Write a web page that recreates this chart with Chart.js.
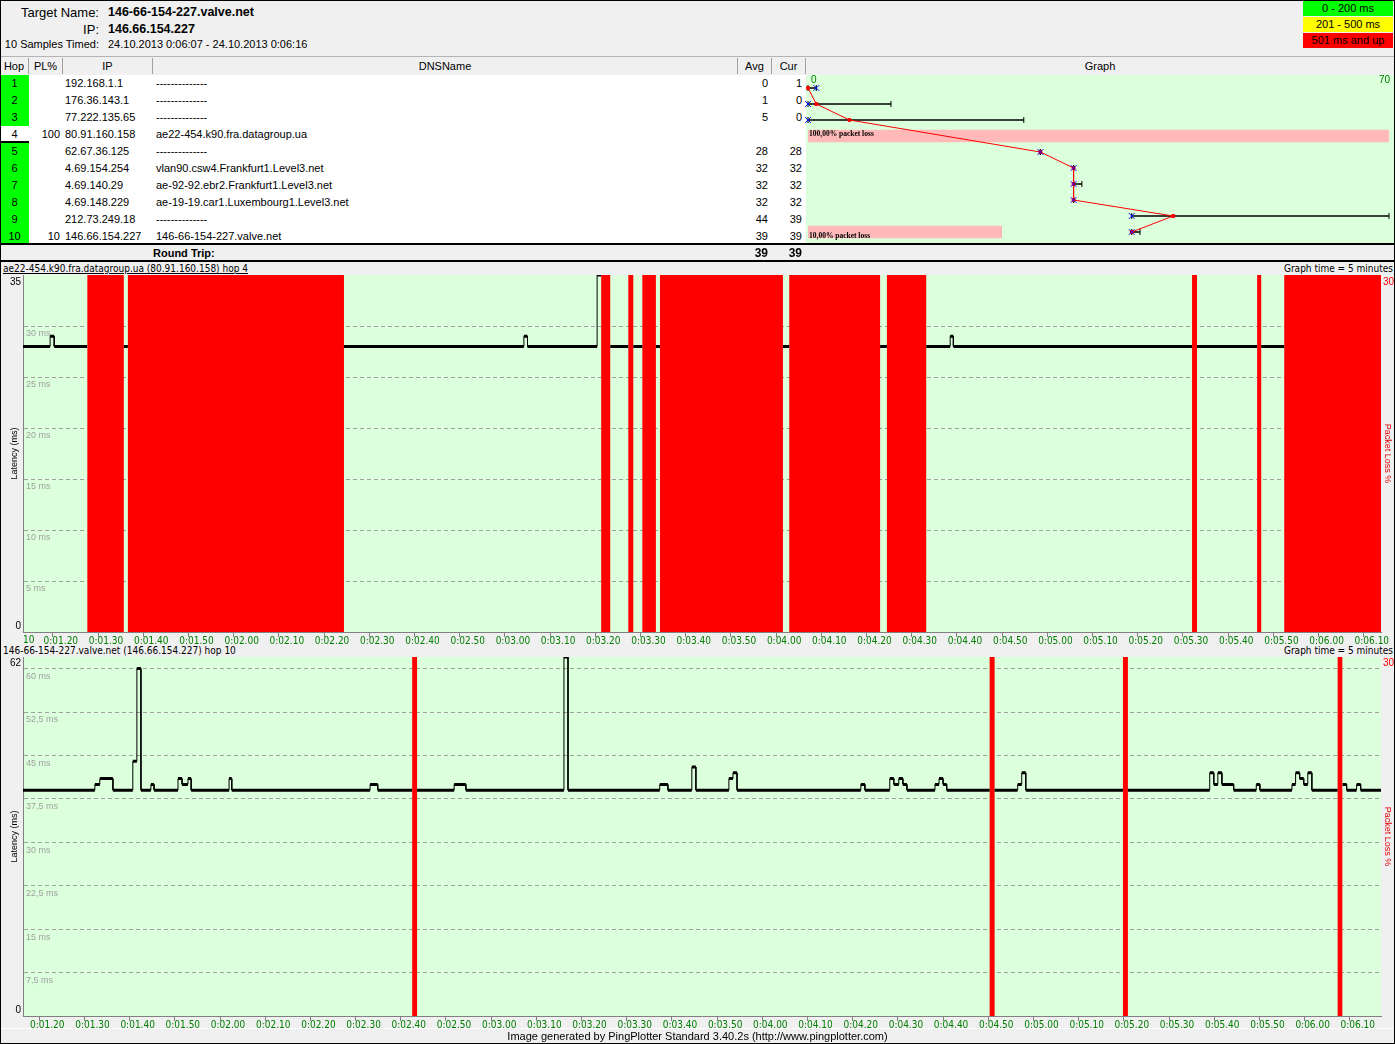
<!DOCTYPE html>
<html>
<head>
<meta charset="utf-8">
<title>PingPlotter - 146-66-154-227.valve.net</title>
<script src="https://cdn.jsdelivr.net/npm/chart.js@4.4.0/dist/chart.umd.min.js"></script>
<style>
  body { margin: 0; background: #f0f0f0; }
  #page { position: relative; width: 1395px; height: 1044px; background: #f0f0f0; overflow: hidden;
          font-family: "Liberation Sans", Arial, sans-serif; font-size: 11px; color: #000; }
  #frame { position: absolute; left: 0; top: 0; width: 1395px; height: 1044px; box-sizing: border-box;
           border: 1px solid #000; pointer-events: none; z-index: 20; }
  .t { position: absolute; white-space: nowrap; }
  .narrow { font-family: "Liberation Sans Narrow", "Arial Narrow", "DejaVu Sans Condensed", "Liberation Sans", sans-serif; }
  canvas { position: absolute; }
  .cell { position: absolute; height: 17px; line-height: 17px; white-space: nowrap; }
  .hdr { position: absolute; top: 58px; height: 16px; line-height: 16px; text-align: center;
         border-right: 1px solid #a0a0a0; box-sizing: border-box; }
  .legend { position: absolute; left: 1303px; width: 90px; height: 15px; line-height: 15px; text-align: center; font-size: 11px; }
  .plbl { position: absolute; font-family: "Liberation Serif", "DejaVu Serif", serif; font-weight: bold; font-size: 7.5px; white-space: nowrap; }
</style>
</head>
<body>
<div id="page">
  <!-- header -->
  <div class="t" style="left:0;width:99px;text-align:right;top:5px;font-size:13px;">Target Name:</div>
  <div class="t" style="left:108px;top:5px;font-size:12.5px;font-weight:bold;">146-66-154-227.valve.net</div>
  <div class="t" style="left:0;width:99px;text-align:right;top:22px;font-size:13px;">IP:</div>
  <div class="t" style="left:108px;top:22px;font-size:12.5px;font-weight:bold;">146.66.154.227</div>
  <div class="t" style="left:0;width:99px;text-align:right;top:38px;">10 Samples Timed:</div>
  <div class="t" style="left:108px;top:38px;">24.10.2013 0:06:07 - 24.10.2013 0:06:16</div>

  <div class="legend" style="top:1px;background:#00ff00;">0 - 200 ms</div>
  <div class="legend" style="top:17px;background:#ffff00;">201 - 500 ms</div>
  <div class="legend" style="top:33px;background:#ff0000;">501 ms and up</div>

  <div style="position:absolute;left:0;top:56px;width:1395px;height:1px;background:#b4b4b4;"></div>

  <!-- table header -->
  <div class="hdr" style="left:0;width:29px;">Hop</div>
  <div class="hdr" style="left:29px;width:34px;">PL%</div>
  <div class="hdr" style="left:63px;width:90px;">IP</div>
  <div class="hdr" style="left:153px;width:585px;">DNSName</div>
  <div class="hdr" style="left:738px;width:34px;">Avg</div>
  <div class="hdr" style="left:772px;width:34px;">Cur</div>
  <div class="hdr" style="left:806px;width:588px;border-right:none;">Graph</div>

  <div id="rows"></div>
  <div id="graphBg" style="position:absolute;left:806px;top:75px;width:588px;height:169px;background:#dcffdc;"></div>
  <canvas id="hopGraph" width="594" height="170" style="left:800px;top:75px;"></canvas>
  <div class="t" style="left:811px;top:74px;font-size:10px;color:#008000;">0</div>
  <div class="t" style="left:1379px;top:74px;font-size:10px;color:#008000;">70</div>
  <div class="plbl" style="left:809px;top:129px;">100,00% packet loss</div>
  <div class="plbl" style="left:809px;top:231px;">10,00% packet loss</div>

  <div style="position:absolute;left:0;top:243px;width:1395px;height:2px;background:#000;"></div>
  <div class="t" style="left:153px;top:247px;font-weight:bold;">Round Trip:</div>
  <div class="t" style="left:738px;width:30px;text-align:right;top:246px;font-weight:bold;font-size:12px;">39</div>
  <div class="t" style="left:772px;width:30px;text-align:right;top:246px;font-weight:bold;font-size:12px;">39</div>
  <div style="position:absolute;left:0;top:260px;width:1395px;height:2px;background:#000;"></div>

  <!-- panel 1 -->
  <div class="t narrow" style="left:3px;top:263px;font-size:10px;text-decoration:underline;">ae22-454.k90.fra.datagroup.ua (80.91.160.158) hop 4</div>
  <div class="t narrow" style="right:2px;top:263px;font-size:10px;">Graph time = 5 minutes</div>
  <canvas id="panel1" width="1395" height="382" style="left:0;top:263px;"></canvas>
  <div class="t" style="left:8px;width:13px;text-align:right;top:276px;font-size:10px;">35</div>
  <div class="t" style="left:8px;width:13px;text-align:right;top:620px;font-size:10px;">0</div>
  <div class="t" style="left:1383px;top:276px;font-size:10px;color:#ff0000;">30</div>
  <div class="t narrow" style="left:23px;top:634px;font-size:10px;color:#008000;">10</div>

  <!-- panel 2 -->
  <div class="t narrow" style="left:3px;top:645px;font-size:10px;">146-66-154-227.valve.net (146.66.154.227) hop 10</div>
  <div class="t narrow" style="right:2px;top:645px;font-size:10px;">Graph time = 5 minutes</div>
  <canvas id="panel2" width="1395" height="385" style="left:0;top:645px;"></canvas>
  <div class="t" style="left:8px;width:13px;text-align:right;top:657px;font-size:10px;">62</div>
  <div class="t" style="left:8px;width:13px;text-align:right;top:1004px;font-size:10px;">0</div>
  <div class="t" style="left:1383px;top:657px;font-size:10px;color:#ff0000;">30</div>

  <div style="position:absolute;left:0;top:1028px;width:1395px;height:1px;background:#ffffff;"></div>
  <div class="t" style="left:0;width:1395px;text-align:center;top:1030px;">Image generated by PingPlotter Standard 3.40.2s (http://www.pingplotter.com)</div>
  <div id="frame"></div>
</div>

<script>
// Hop table
const hopNums = [1, 2, 3, 4, 5, 6, 7, 8, 9, 10];
const hopPL = ['', '', '', '100', '', '', '', '', '', '10'];
const hopIP = ['192.168.1.1', '176.36.143.1', '77.222.135.65', '80.91.160.158', '62.67.36.125',
               '4.69.154.254', '4.69.140.29', '4.69.148.229', '212.73.249.18', '146.66.154.227'];
const hopDNS = ['--------------', '--------------', '--------------', 'ae22-454.k90.fra.datagroup.ua',
                '--------------', 'vlan90.csw4.Frankfurt1.Level3.net', 'ae-92-92.ebr2.Frankfurt1.Level3.net',
                'ae-19-19.car1.Luxembourg1.Level3.net', '--------------', '146-66-154-227.valve.net'];
const hopAvg = [0, 1, 5, null, 28, 32, 32, 32, 44, 39];
const hopCur = [1, 0, 0, null, 28, 32, 32, 32, 39, 39];
const hopMin = [0, 0, 0, null, 28, 32, 32, 32, 39, 39];
const hopMax = [1, 10, 26, null, 28, 32, 33, 32, 70, 40];
const hopLossPct = [0, 0, 0, 100, 0, 0, 0, 0, 0, 10];
const graphMaxMs = 70;
const lossScaleMax = 30;

// Hop 4 timeline (seconds, ms; null = lost)
const hop4Time = [73.4, 79.4, 80.3, 87.6, 95.7, 96.6, 144.4, 184.2, 185.0, 200.4, 201.3, 203.3, 207.3, 208.4,
                  210.4, 213.4, 214.3, 241.5, 242.9, 263.0, 264.5, 273.2, 278.5, 279.2, 332.0, 333.1, 346.4,
                  347.3, 352.4];
const hop4Ms = [28, 29, 28, null, 28, null, 28, 29, 28, 35, null, 28, null, 28,
                null, 28, null, 28, null, 28, null, 28, 29, 28, null, 28, null,
                28, null];
const hop4End = 373.8;

// Hop 10 timeline
const hop10Time = [76.4, 92.3, 93.4, 96.3, 100.7, 101.6, 102.5, 104.7, 105.4, 110.7, 111.6, 112.9, 113.6,
                   122.0, 122.6, 153.2, 154.9, 162.5, 163.6, 171.8, 174.4, 196.1, 197.0, 217.3, 219.1,
                   224.4, 225.3, 232.6, 233.5, 234.4, 261.8, 262.7, 268.2, 269.1, 270.2, 271.1, 272.0,
                   278.2, 279.1, 280.0, 280.8, 290.3, 291.4, 296.5, 297.4, 298.3, 319.8, 320.9, 339.0,
                   339.9, 340.8, 341.7, 344.3, 349.3, 350.1, 357.2, 358.0, 358.9, 359.8, 360.7, 361.6,
                   367.3, 368.4, 369.3, 371.5, 372.4];
const hop10Ms = [39, 40, 41, 39, 44, 60, 39, 40, 39, 41, 40, 41, 39,
                 41, 39, 40, 39, null, 39, 40, 39, 62, 39, 40, 39,
                 43, 39, 41, 42, 39, 40, 39, 41, 40, 41, 40, 39,
                 40, 41, 40, 39, null, 39, 40, 42, 39, null, 39, 42,
                 40, 42, 40, 39, 40, 39, 40, 42, 41, 40, 42, 39,
                 null, 40, 39, 40, 39];
const hop10End = 376.9;

const NARROW = '"Liberation Sans Narrow", "Arial Narrow", "DejaVu Sans Condensed", "Liberation Sans", sans-serif';

// table rows
const rows = document.getElementById('rows');
hopNums.forEach((h, i) => {
  const top = 75 + i * 17;
  const add = (left, width, text, style) => {
    const d = document.createElement('div');
    d.className = 'cell';
    d.style.cssText = `left:${left}px;top:${top}px;width:${width}px;` + (style || '');
    d.textContent = text;
    rows.appendChild(d);
  };
  add(29, 777, '', 'background:#fff;');
  add(0, 29, String(h), 'text-align:center;background:' + (hopPL[i] === '100' ? '#fff' : '#00ff00') + ';');
  add(29, 31, hopPL[i], 'text-align:right;');
  add(65, 88, hopIP[i]);
  add(156, 580, hopDNS[i]);
  add(738, 30, hopAvg[i] === null ? '' : String(hopAvg[i]), 'text-align:right;');
  add(772, 30, hopCur[i] === null ? '' : String(hopCur[i]), 'text-align:right;');
  if (hopPL[i] === '100') add(0, 29, '', 'height:2px;top:' + (top + 15) + 'px;background:#000;');
});

// plot area background
const plotBg = {
  id: 'plotBg',
  beforeDraw(chart, args, opts) {
    if (!opts.color) return;
    const { ctx, chartArea: a } = chart;
    ctx.save();
    ctx.fillStyle = opts.color;
    ctx.fillRect(a.left, a.top, a.right - a.left, a.bottom - a.top);
    ctx.restore();
  }
};

// ---- hop graph column ----
const avgPts = hopNums.map((h, i) => ({ x: hopAvg[i], y: hopAvg[i] === null ? null : h }));
const curPts = hopNums.map((h, i) => ({ x: hopCur[i], y: hopCur[i] === null ? null : h }));
const rangePts = [];
hopNums.forEach((h, i) => {
  if (hopMin[i] === null) return;
  rangePts.push({ x: hopMin[i], y: h }, { x: hopMax[i], y: h }, { x: hopMax[i], y: null });
});
const lossBars = hopNums.map((h, i) => ({ x: Math.min(hopLossPct[i], lossScaleMax) / lossScaleMax * graphMaxMs, y: h }))
  .filter(p => p.x > 0);

new Chart(document.getElementById('hopGraph'), {
  type: 'line',
  data: {
    datasets: [
      { type: 'line', data: curPts, showLine: false, pointStyle: 'crossRot', pointRadius: 4,
        pointBorderColor: '#0000ff', pointBorderWidth: 1, clip: false, order: 1 },
      { type: 'line', data: avgPts, borderColor: '#ff0000', borderWidth: 1, spanGaps: true,
        pointStyle: 'rect', pointRadius: 2, pointBackgroundColor: '#ff0000', pointBorderColor: '#ff0000',
        clip: false, order: 2 },
      { type: 'line', data: rangePts, borderColor: '#000', borderWidth: 1.5, pointStyle: 'line',
        pointRotation: 90, pointRadius: 3, pointBorderColor: '#000', pointBorderWidth: 1, clip: false, order: 3 },
      { type: 'bar', indexAxis: 'y', data: lossBars, backgroundColor: '#ffb9b9', barThickness: 12,
        borderWidth: 0, order: 10 }
    ]
  },
  options: {
    responsive: false, animation: false, devicePixelRatio: 1,
    layout: { padding: { left: 8, right: 1, top: 0, bottom: 0 } },
    plugins: { legend: { display: false }, tooltip: { enabled: false } },
    scales: {
      x: { type: 'linear', min: 0, max: graphMaxMs, display: false, offset: false },
      y: { type: 'linear', min: 0.5, max: 10.5, reverse: true, display: false, offset: false }
    }
  }
});

// ---- timeline panels ----
function fmtTime(v) {
  const m = Math.floor(v / 60);
  const s = Math.round(v - m * 60);
  return '0:0' + m + '.' + String(s).padStart(2, '0');
}

function buildTimeline(times, ms, end) {
  const flat = [], steps = [], lost = [];
  for (let i = 0; i < times.length; i++) {
    const s = times[i];
    const e = i + 1 < times.length ? times[i + 1] : end;
    const v = ms[i];
    if (v === null) {
      lost.push({ x: s, y: 0 }, { x: s, y: 100 }, { x: e, y: 100 }, { x: e, y: 0 });
    } else {
      flat.push({ x: s, y: v }, { x: e, y: v }, { x: e, y: null });
      const next = ms[i + 1];
      if (next !== null && next !== undefined) steps.push({ x: e, y: v }, { x: e, y: next }, { x: e, y: null });
    }
  }
  return { flat, steps, lost };
}

function makePanel(id, times, ms, end, xMin, xMax, yMax, yStep, xAxisH) {
  const tl = buildTimeline(times, ms, end);
  return new Chart(document.getElementById(id), {
    type: 'line',
    data: {
      datasets: [
        { data: tl.flat, borderColor: '#000', borderWidth: 3, borderCapStyle: 'butt', pointRadius: 0, order: 1 },
        { data: tl.steps, borderColor: '#000', borderWidth: 1, pointRadius: 0, order: 2 },
        { data: tl.lost, yAxisID: 'y2', borderWidth: 0, borderColor: 'rgba(0,0,0,0)', backgroundColor: '#ff0000',
          fill: 'origin', pointRadius: 0, order: 3 }
      ]
    },
    options: {
      responsive: false, animation: false, devicePixelRatio: 1,
      layout: { padding: { top: 12, left: 0, right: 0, bottom: 0 } },
      plugins: { legend: { display: false }, tooltip: { enabled: false }, plotBg: { color: '#dcffdc' } },
      scales: {
        x: {
          type: 'linear', min: xMin, max: xMax,
          afterFit: s => { s.height = xAxisH; },
          ticks: { stepSize: 10, includeBounds: false, autoSkip: false, maxRotation: 0, color: '#008000',
                   font: { family: NARROW, size: 10 }, padding: -2, labelOffset: 8, callback: fmtTime },
          grid: { drawOnChartArea: false, color: '#808080', tickLength: 5 },
          border: { color: '#808080' }
        },
        y: {
          type: 'linear', position: 'left', min: 0, max: yMax,
          afterFit: s => { s.width = 23; },
          ticks: { stepSize: yStep, includeBounds: false, mirror: true, padding: 3, labelOffset: 8,
                   color: '#a0a0a0', font: { size: 9 },
                   callback: v => (v === 0 || v >= yMax) ? '' : String(v).replace('.', ',') + ' ms' },
          grid: { drawTicks: false, color: c => (c.tick.value === 0 || c.tick.value >= yMax) ? 'rgba(0,0,0,0)' : '#a0a0a0' },
          border: { color: '#808080', dash: [4, 3] },
          title: { display: true, text: 'Latency (ms)', color: '#000', font: { size: 9 }, padding: { top: 9, bottom: 0 } }
        },
        y2: {
          type: 'linear', position: 'right', min: 0, max: lossScaleMax,
          afterFit: s => { s.width = 14; },
          ticks: { display: false }, grid: { display: false }, border: { display: false },
          title: { display: true, text: 'Packet Loss %', color: '#e00000', font: { size: 9 }, padding: { top: 2, bottom: 0 } }
        }
      }
    },
    plugins: [plotBg]
  });
}

makePanel('panel1', hop4Time, hop4Ms, hop4End, 73.4, 373.8, 35, 5, 13);
makePanel('panel2', hop10Time, hop10Ms, hop10End, 76.4, 376.9, 62, 7.5, 14);
</script>
</body>
</html>
